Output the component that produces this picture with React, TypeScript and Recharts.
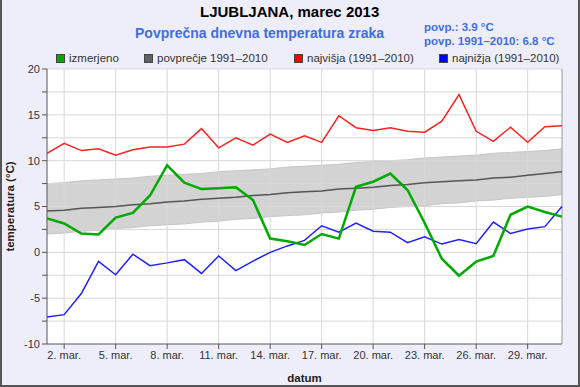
import {
  Area,
  CartesianGrid,
  ComposedChart,
  Label,
  Line,
  ReferenceLine,
  XAxis,
  YAxis,
} from 'recharts';

const FONT = '"Liberation Sans", Arial, sans-serif';

const days = [
  1, 2, 3, 4, 5, 6, 7, 8, 9, 10, 11, 12, 13, 14, 15, 16, 17, 18, 19, 20, 21,
  22, 23, 24, 25, 26, 27, 28, 29, 30, 31,
];

// izmerjeno
const izmerjeno = [
  3.7, 3.15, 2.05, 1.95, 3.8, 4.3, 6.2, 9.5, 7.6, 6.9, 7.0, 7.1, 5.7, 1.5,
  1.2, 0.8, 2.0, 1.5, 7.15, 7.7, 8.6, 6.8, 3.2, -0.7, -2.55, -1.0, -0.4, 4.1,
  5.0, 4.4, 3.9,
];

// povprečje 1991–2010
const povprecje = [
  4.5, 4.6, 4.8, 4.9, 5.0, 5.2, 5.3, 5.5, 5.6, 5.8, 5.9, 6.0, 6.2, 6.3, 6.5,
  6.6, 6.7, 6.9, 7.0, 7.1, 7.3, 7.4, 7.6, 7.7, 7.8, 7.9, 8.1, 8.2, 8.4, 8.6,
  8.8,
];

// sivi pas okoli povprečja
const pasZgoraj = [
  7.5, 7.6, 7.8, 7.9, 8.0, 8.1, 8.3, 8.4, 8.5, 8.6, 8.8, 8.9, 9.0, 9.1, 9.3,
  9.4, 9.5, 9.6, 9.8, 9.9, 10.0, 10.1, 10.3, 10.4, 10.5, 10.6, 10.8, 10.9,
  11.0, 11.1, 11.3,
];
const pasSpodaj = [
  2.0, 2.1, 2.3, 2.4, 2.6, 2.7, 2.9, 3.0, 3.1, 3.3, 3.4, 3.6, 3.7, 3.9, 4.0,
  4.1, 4.3, 4.4, 4.6, 4.7, 4.9, 5.0, 5.1, 5.3, 5.4, 5.6, 5.7, 5.9, 6.0, 6.1,
  6.3,
];

// najvišja (1991–2010)
const najvisja = [
  10.8, 11.9, 11.1, 11.3, 10.6, 11.2, 11.5, 11.5, 11.8, 13.5, 11.4, 12.5,
  11.7, 12.9, 12.0, 12.7, 12.0, 14.9, 13.6, 13.3, 13.6, 13.2, 13.1, 14.3,
  17.2, 13.2, 12.1, 13.65, 12.0, 13.7, 13.8,
];

// najnižja (1991–2010)
const najnizja = [
  -7.05, -6.8, -4.5, -1.0, -2.45, -0.2, -1.45, -1.15, -0.8, -2.3, -0.4, -2.0,
  -0.95, 0.0, 0.7, 1.3, 2.9, 2.2, 3.2, 2.3, 2.2, 1.05, 1.7, 0.9, 1.4, 0.95,
  3.3, 2.05, 2.55, 2.8, 5.0,
];

const xTicks = [2, 5, 8, 11, 14, 17, 20, 23, 26, 29];
const yTicks = [
  -10, -7.5, -5, -2.5, 0, 2.5, 5, 7.5, 10, 12.5, 15, 17.5, 20,
];

const legendItems = [
  { label: 'izmerjeno', color: '#00aa00', left: 56 },
  { label: 'povprečje 1991–2010', color: '#606060', left: 144 },
  { label: 'najvišja (1991–2010)', color: '#ff0000', left: 294 },
  { label: 'najnižja (1991–2010)', color: '#0000ff', left: 439 },
];

const chartData = days.map((d, i) => ({
  day: d,
  izmerjeno: izmerjeno[i],
  povprecje: povprecje[i],
  pas: [pasSpodaj[i], pasZgoraj[i]],
  najvisja: najvisja[i],
  najnizja: najnizja[i],
}));

export default function App() {
  return (
    <div
      style={{
        position: 'absolute',
        left: 0,
        top: 0,
        width: 580,
        height: 387,
        background: '#eeeefa',
        fontFamily: FONT,
        boxSizing: 'border-box',
        borderLeft: '2px solid #555',
        borderRight: '2px solid #555',
        borderBottom: '2px solid #555',
        overflow: 'hidden',
      }}
    >
      <div
        style={{
          position: 'absolute',
          left: 198,
          top: 3,
          fontSize: 15,
          fontWeight: 'bold',
          color: '#000',
          whiteSpace: 'nowrap',
        }}
      >
        LJUBLJANA, marec 2013
      </div>
      <div
        style={{
          position: 'absolute',
          left: 133,
          top: 25,
          fontSize: 14,
          fontWeight: 'bold',
          color: '#3f6fdf',
          whiteSpace: 'nowrap',
        }}
      >
        Povprečna dnevna temperatura zraka
      </div>
      <div
        style={{
          position: 'absolute',
          left: 422,
          top: 20,
          fontSize: 11.5,
          fontWeight: 'bold',
          color: '#3f6fdf',
          lineHeight: '14px',
          whiteSpace: 'nowrap',
        }}
      >
        povp.: 3.9 °C
        <br />
        povp. 1991–2010: 6.8 °C
      </div>
      {legendItems.map((item) => (
        <div
          key={item.label}
          style={{
            position: 'absolute',
            left: item.left - 2,
            top: 52,
            display: 'flex',
            alignItems: 'center',
            fontSize: 11.5,
            color: '#333',
            whiteSpace: 'nowrap',
          }}
        >
          <span
            style={{
              display: 'inline-block',
              width: 7,
              height: 7,
              background: item.color,
              border: '1px solid #444',
              marginRight: 4,
            }}
          />
          {item.label}
        </div>
      ))}
      <div style={{ position: 'absolute', left: -2, top: 0 }}>
        <ComposedChart
          width={580}
          height={387}
          data={chartData}
          margin={{ top: 69, right: 18, bottom: 23, left: 0 }}
        >
          <CartesianGrid
            stroke="#d4d4d4"
            fill="#ffffff"
            fillOpacity={1}
            horizontal={false}
            vertical={false}
          />
          <XAxis
            dataKey="day"
            type="number"
            domain={[1, 31]}
            ticks={xTicks}
            tickFormatter={(v) => `${v}. mar.`}
            height={20}
            stroke="#555"
            tickSize={5}
            tick={{ fill: '#333', fontSize: 11, fontFamily: FONT }}
            interval={0}
          >
            <Label
              value="datum"
              position="insideBottom"
              offset={-18}
              style={{
                fontWeight: 'bold',
                fontSize: 11.5,
                fill: '#222',
                fontFamily: FONT,
              }}
            />
          </XAxis>
          <YAxis
            type="number"
            domain={[-10, 20]}
            ticks={yTicks}
            interval={0}
            width={47}
            stroke="#555"
            tickSize={5}
            tickFormatter={(v) => (v % 5 === 0 ? String(v) : '')}
            tick={{ fill: '#333', fontSize: 11, fontFamily: FONT }}
          >
            <Label
              value="temperatura (°C)"
              angle={-90}
              position="insideLeft"
              offset={10}
              style={{
                fontWeight: 'bold',
                fontSize: 11.5,
                fill: '#222',
                fontFamily: FONT,
                textAnchor: 'middle',
              }}
            />
          </YAxis>
          {yTicks
            .filter((v) => v > -10)
            .map((v) => (
              <ReferenceLine key={`h${v}`} y={v} stroke="#d8d8d8" />
            ))}
          {xTicks.map((v) => (
            <ReferenceLine key={`v${v}`} x={v} stroke="#d8d8d8" />
          ))}
          <ReferenceLine x={31} stroke="#999" />
          <Area
            dataKey="pas"
            type="linear"
            fill="#d3d3d3"
            fillOpacity={1}
            stroke="#c6c6c6"
            strokeWidth={1}
            isAnimationActive={false}
            activeDot={false}
          />
          <Line
            dataKey="povprecje"
            type="linear"
            stroke="#555"
            strokeWidth={1.5}
            dot={false}
            isAnimationActive={false}
          />
          <Line
            dataKey="najvisja"
            type="linear"
            stroke="#ff2020"
            strokeWidth={1.5}
            dot={false}
            isAnimationActive={false}
          />
          <Line
            dataKey="najnizja"
            type="linear"
            stroke="#2020ff"
            strokeWidth={1.5}
            dot={false}
            isAnimationActive={false}
          />
          <Line
            dataKey="izmerjeno"
            type="linear"
            stroke="#00aa00"
            strokeWidth={2.5}
            dot={false}
            isAnimationActive={false}
          />
        </ComposedChart>
      </div>
    </div>
  );
}
